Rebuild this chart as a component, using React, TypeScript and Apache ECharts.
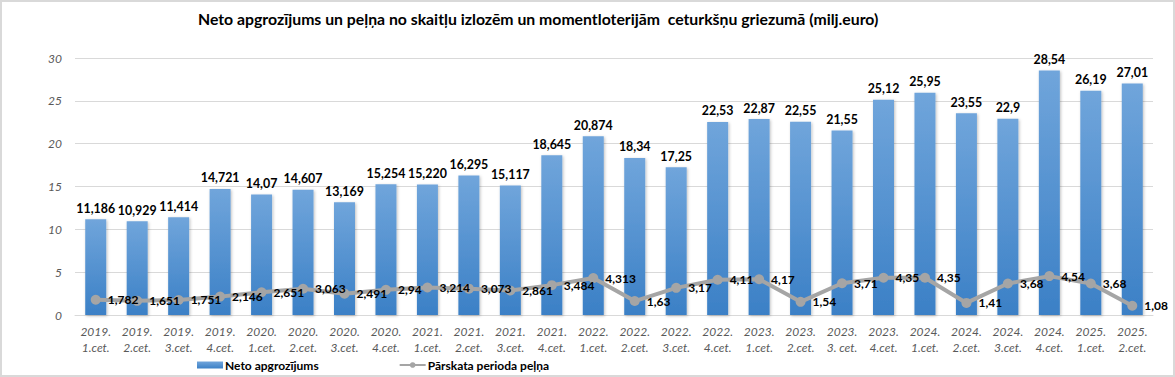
import React, { useEffect, useRef } from "react";
import * as echarts from "echarts";

const categories = [
  "2019.\n1.cet.", "2019.\n2.cet.", "2019.\n3.cet.", "2019.\n4.cet.",
  "2020.\n1.cet.", "2020.\n2.cet.", "2020.\n3.cet.", "2020.\n4.cet.",
  "2021.\n1.cet.", "2021.\n2.cet.", "2021.\n3.cet.", "2021.\n4.cet.",
  "2022.\n1.cet.", "2022.\n2.cet.", "2022.\n3.cet.", "2022.\n4.cet.",
  "2023.\n1.cet.", "2023.\n2.cet.", "2023.\n3. cet.", "2023.\n4.cet.",
  "2024.\n1.cet.", "2024.\n2.cet.", "2024.\n3.cet.", "2024.\n4.cet.",
  "2025.\n1.cet.", "2025.\n2.cet.",
];

const revenueLabels = [
  "11,186", "10,929", "11,414", "14,721",
  "14,07", "14,607", "13,169", "15,254",
  "15,220", "16,295", "15,117", "18,645",
  "20,874", "18,34", "17,25", "22,53",
  "22,87", "22,55", "21,55", "25,12",
  "25,95", "23,55", "22,9", "28,54",
  "26,19", "27,01",
];

const profitLabels = [
  "1,782", "1,651", "1,751", "2,146",
  "2,651", "3,063", "2,491", "2,94",
  "3,214", "3,073", "2,861", "3,484",
  "4,313", "1,63", "3,17", "4,11",
  "4,17", "1,54", "3,71", "4,35",
  "4,35", "1,41", "3,68", "4,54",
  "3,68", "1,08",
];

const yTicks = [0, 5, 10, 15, 20, 25, 30];

const toNum = (s: string) => parseFloat(s.replace(",", "."));
const revenue = revenueLabels.map(toNum);
const profit = profitLabels.map(toNum);

const titleText =
  "Neto apgrozījums un peļņa no skaitļu izlozēm un momentloterijām  ceturkšņu griezumā (milj.euro)";
const seriesNames = ["Neto apgrozījums", "Pārskata perioda peļņa"];

const FONT = "Lato, 'Open Sans', sans-serif";

export default function App() {
  const ref = useRef<HTMLDivElement>(null);
  useEffect(() => {
    if (!ref.current) return;
    const chart = echarts.init(ref.current, undefined, { renderer: "svg" });
    chart.setOption({
      animation: false,
      textStyle: { fontFamily: FONT },
      title: {
        text: titleText,
        left: 193,
        top: 5,
        textStyle: { fontSize: 15.8, fontWeight: "bold", color: "#000", fontFamily: FONT },
      },
      legend: {
        left: 192,
        top: 354,
        itemGap: 80,
        itemWidth: 26,
        itemHeight: 7,
        textStyle: { fontSize: 12, fontWeight: "bold", color: "#000", fontFamily: FONT, padding: [0, 0, 0, -3] },
        data: [
          { name: seriesNames[0], icon: "rect" },
          { name: seriesNames[1] },
        ],
      },
      grid: { left: 75, right: 22, top: 58, bottom: 62 },
      xAxis: {
        type: "category",
        data: categories,
        axisLine: { lineStyle: { color: "#d9d9d9", width: 1 } },
        axisTick: { show: false },
        axisLabel: {
          interval: 0,
          fontSize: 12,
          fontStyle: "italic",
          color: "#595959",
          lineHeight: 16,
          margin: 8,
          fontFamily: FONT,
        },
      },
      yAxis: {
        type: "value",
        min: yTicks[0],
        max: yTicks[yTicks.length - 1],
        interval: 5,
        axisLine: { show: false },
        axisTick: { show: false },
        splitLine: { lineStyle: { color: "#d9d9d9", width: 1 } },
        axisLabel: {
          fontSize: 12,
          fontStyle: "italic",
          color: "#595959",
          margin: 13,
          fontFamily: FONT,
        },
      },
      series: [
        {
          name: seriesNames[0],
          type: "bar",
          data: revenue,
          barWidth: 21,
          itemStyle: {
            color: new echarts.graphic.LinearGradient(0, 0, 0, 1, [
              { offset: 0, color: "#70a5db" },
              { offset: 1, color: "#3b80c6" },
            ]),
            shadowColor: "rgba(0,0,0,0.25)",
            shadowBlur: 3,
            shadowOffsetX: 1,
            shadowOffsetY: 1,
          },
          label: {
            show: true,
            position: "top",
            distance: 5,
            fontSize: 12.4,
            fontWeight: "bold",
            color: "#000",
            fontFamily: FONT,
            formatter: (p: any) => revenueLabels[p.dataIndex],
          },
          z: 2,
        },
        {
          name: seriesNames[1],
          type: "line",
          data: profit,
          symbol: "circle",
          symbolSize: 10,
          lineStyle: { color: "#a5a5a5", width: 4 },
          itemStyle: { color: "#a5a5a5" },
          label: {
            show: true,
            position: "right",
            distance: 7,
            fontSize: 12,
            fontWeight: "bold",
            color: "#000",
            fontFamily: FONT,
            formatter: (p: any) => profitLabels[p.dataIndex],
          },
          z: 3,
        },
      ],
    });
    return () => chart.dispose();
  }, []);
  return (
    <div style={{ position: "fixed", left: 0, top: 0, width: 1175, height: 377, background: "#fff" }}>
      <div ref={ref} style={{ position: "absolute", left: 0, top: 0, width: 1175, height: 377 }} />
      <div
        style={{
          position: "absolute",
          left: 0,
          top: 0,
          width: 1175,
          height: 377,
          boxSizing: "border-box",
          border: "2px solid #d9d9d9",
          pointerEvents: "none",
        }}
      />
    </div>
  );
}
